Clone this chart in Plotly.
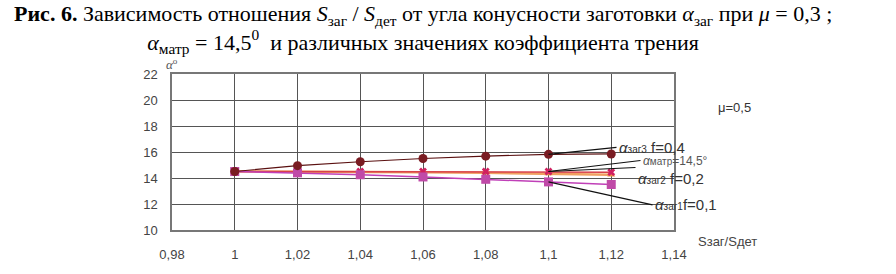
import plotly.graph_objects as go

x_ratio = [1.00, 1.02, 1.04, 1.06, 1.08, 1.10, 1.12]
f04 = [14.5, 14.95, 15.25, 15.5, 15.68, 15.82, 15.85]
matr = [14.5, 14.5, 14.5, 14.5, 14.5, 14.5, 14.45]
f02 = [14.5, 14.5, 14.45, 14.45, 14.4, 14.35, 14.25]
f01 = [14.5, 14.4, 14.25, 14.08, 13.9, 13.7, 13.5]

x_ticks = [0.98, 1.00, 1.02, 1.04, 1.06, 1.08, 1.10, 1.12, 1.14]
x_ticktext = ["0,98", "1", "1,02", "1,04", "1,06", "1,08", "1,1", "1,12", "1,14"]
y_ticks = [10, 12, 14, 16, 18, 20, 22]

fig = go.Figure()
fig.add_trace(go.Scatter(x=x_ratio, y=f02, mode="lines+markers",
                         line=dict(color="#f0a060", width=2.5),
                         marker=dict(symbol="triangle-up", size=7, color="#e89040")))
fig.add_trace(go.Scatter(x=x_ratio, y=matr, mode="lines+markers",
                         line=dict(color="#d8404a", width=1.5),
                         marker=dict(symbol="x", size=7, color="#d02060")))
fig.add_trace(go.Scatter(x=x_ratio, y=f01, mode="lines+markers",
                         line=dict(color="#c040b8", width=1.5),
                         marker=dict(symbol="square", size=9, color="#c04aa8")))
fig.add_trace(go.Scatter(x=x_ratio, y=f04, mode="lines+markers",
                         line=dict(color="#5a1010", width=1.2),
                         marker=dict(symbol="circle", size=9, color="#7a1c22")))

title = ("<b>Рис. 6.</b> Зависимость отношения <i>S</i><sub>заг</sub> / <i>S</i><sub>дет</sub> "
         "от угла конусности заготовки <i>α</i><sub>заг</sub> при <i>μ</i> = 0,3 ;<br>"
         "<i>α</i><sub>матр</sub> = 14,5<sup>0</sup>  и различных значениях коэффициента трения")

ann_font = dict(family="Liberation Sans, Arial", size=15, color="#333333")
sub = lambda s: "<span style='font-size:10px'>" + s + "</span>"

fig.update_layout(
    width=896, height=274,
    margin=dict(l=172, r=222, t=74, b=38),
    paper_bgcolor="white", plot_bgcolor="white",
    showlegend=False,
    font=dict(family="Liberation Sans, Arial", size=13, color="#444444"),
    xaxis=dict(range=[0.98, 1.14], tickvals=x_ticks, ticktext=x_ticktext,
               showgrid=True, gridcolor="#555555", gridwidth=1,
               zeroline=False, showline=True, linecolor="#777777", linewidth=1.5,
               mirror=True, ticks="", ticklabelstandoff=12,
               tickfont=dict(size=13, color="#444444")),
    yaxis=dict(range=[10, 22], tickvals=y_ticks,
               showgrid=True, gridcolor="#555555", gridwidth=1,
               zeroline=False, showline=True, linecolor="#777777", linewidth=1.5,
               mirror=True, ticks="", ticklabelstandoff=10,
               tickfont=dict(size=13, color="#444444")),
    annotations=[
        dict(text=title, xref="paper", yref="paper", x=0.5, y=1, yshift=75,
             xanchor="center", yanchor="top", showarrow=False, align="center",
             font=dict(family="Liberation Serif, Times New Roman", size=22, color="#000000")),
        dict(text="<i>α</i><sup>o</sup>", xref="paper", yref="paper", x=0, y=1, xshift=-8,
             yshift=0, xanchor="left", yanchor="bottom", showarrow=False,
             font=dict(family="Liberation Serif", size=13, color="#555555")),
        dict(text="Sзаг/Sдет", xref="paper", yref="paper", x=1, y=0, xshift=22, yshift=-2,
             xanchor="left", yanchor="top", showarrow=False,
             font=dict(family="Liberation Sans", size=13, color="#444444")),
        dict(text="μ=0,5", xref="paper", yref="paper", x=1, y=1, xshift=42, yshift=-24,
             xanchor="left", yanchor="top", showarrow=False,
             font=dict(family="Liberation Sans", size=13, color="#333333")),
        dict(text="<i>α</i>" + sub("заг3") + " f=0,4", x=x_ratio[5], y=f04[5],
             ax=68, ay=-7, xanchor="left", yanchor="middle", showarrow=True,
             arrowhead=0, arrowwidth=1.2, arrowcolor="#111111", font=ann_font),
        dict(text="<i>α</i>" + sub("матр") + "=14,5°", x=x_ratio[5], y=matr[5],
             ax=92, ay=-11, xanchor="left", yanchor="middle", showarrow=True,
             arrowhead=0, arrowwidth=1.2, arrowcolor="#111111",
             font=dict(family="Liberation Sans", size=12, color="#555555")),
        dict(text="<i>α</i>" + sub("заг2") + " f=0,2", x=x_ratio[5], y=matr[5],
             ax=87, ay=-4, xanchor="left", yanchor="top", showarrow=True,
             arrowhead=0, arrowwidth=1.2, arrowcolor="#111111", font=ann_font),
        dict(text="<i>α</i>" + sub("заг1") + "f=0,1", x=x_ratio[5], y=f01[5],
             ax=104, ay=23, xanchor="left", yanchor="middle", showarrow=True,
             arrowhead=0, arrowwidth=1.2, arrowcolor="#111111", font=ann_font),
    ],
)

fig.write_html("out.html", config={"displayModeBar": False},
               post_script="document.body.style.margin='0';document.body.style.overflow='hidden';")
